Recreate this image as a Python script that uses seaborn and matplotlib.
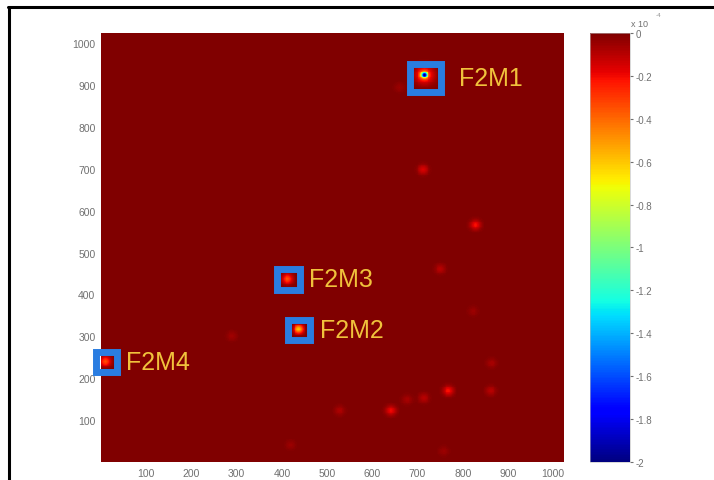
import numpy as np
import pandas as pd
import matplotlib
matplotlib.use("Agg")
import matplotlib.pyplot as plt
from matplotlib.patches import Rectangle
from matplotlib.lines import Line2D
import seaborn as sns

# ── Data ──────────────────────────────────────────────────────────────────────
EXTENT = 1024
N_CELLS = 512

# bright spots on the map (position in px, depth in x10^-4, spread in px)
# F2M1 is given as a wide halo plus a deep narrow core
spot_x = [715, 715, 437, 412, 10, 712, 828, 750, 289, 768, 862, 864, 714, 677, 641, 528, 758, 419, 823, 660]
spot_y = [924, 924, 317, 437, 240, 698, 566, 461, 301, 170, 170, 236, 153, 149, 123, 123, 26, 41, 360, 894]
spot_depth = [-0.35, -1.7, -0.6, -0.35, -0.35, -0.16, -0.22, -0.1, -0.06, -0.22, -0.1, -0.07,
              -0.1, -0.07, -0.2, -0.08, -0.05, -0.05, -0.05, -0.05]
spot_width = [14, 4.5, 7, 8, 8, 8, 8, 8, 8, 8, 8, 8, 8, 8, 8, 8, 8, 8, 8, 8]

marker_names = ["F2M1", "F2M2", "F2M3", "F2M4"]
marker_x = [717, 438, 414, 12]
marker_y = [917, 315, 436, 238]

axis_ticks = [100, 200, 300, 400, 500, 600, 700, 800, 900, 1000]
cbar_ticks = [0, -0.2, -0.4, -0.6, -0.8, -1, -1.2, -1.4, -1.6, -1.8, -2]
cbar_labels = ["0", "-0.2", "-0.4", "-0.6", "-0.8", "-1", "-1.2", "-1.4", "-1.6", "-1.8", "-2"]

# ── Build field ───────────────────────────────────────────────────────────────
step = EXTENT / N_CELLS
centers = (np.arange(N_CELLS) + 0.5) * step
gx, gy = np.meshgrid(centers, centers)
field = np.zeros_like(gx)
for x, y, d, w in zip(spot_x, spot_y, spot_depth, spot_width):
    field += d * np.exp(-((gx - x) ** 2 + (gy - y) ** 2) / (2 * w ** 2))
field = np.clip(field, -2, 0)
df = pd.DataFrame(field)

# ── Plot ──────────────────────────────────────────────────────────────────────
sns.set_style("white")
plt.rcParams["font.family"] = ["Liberation Sans", "DejaVu Sans"]

fig = plt.figure(figsize=(7.14, 4.81), dpi=100)
ax = fig.add_axes([0.1415, 0.0374, 0.6485, 0.892])
cax = fig.add_axes([0.826, 0.0374, 0.056, 0.892])

sns.heatmap(df, ax=ax, cbar_ax=cax, cmap="jet", vmin=-2, vmax=0,
            xticklabels=False, yticklabels=False,
            cbar_kws={"ticks": cbar_ticks}, rasterized=True)
ax.set_ylim(0, N_CELLS)
ax.set_xlim(0, N_CELLS)

ax.set_xticks([t / step for t in axis_ticks])
ax.set_xticklabels([str(t) for t in axis_ticks])
ax.set_yticks([t / step for t in axis_ticks])
ax.set_yticklabels([str(t) for t in axis_ticks], rotation=0)
ax.tick_params(length=0, labelsize=7.5, colors="#707070", pad=4)
ax.set_xlabel("")
ax.set_ylabel("")

# marker boxes + labels
box_sizes = [68, 48, 50, 48]          # in px units of the map
text_offsets = [24, 15, 15, 14]       # points
for name, mx, my, bs, off in zip(marker_names, marker_x, marker_y, box_sizes, text_offsets):
    cx, cy = mx / step, my / step
    half = bs / step / 2
    ax.add_patch(Rectangle((cx - half, cy - half), 2 * half, 2 * half,
                           fill=False, edgecolor="#2a7de1", linewidth=5,
                           clip_on=False, zorder=5))
    ax.annotate(name, (cx, cy), xytext=(off, 0), textcoords="offset points",
                ha="left", va="center", fontsize=18, color="#f0c23c",
                annotation_clip=False, zorder=6)

# colorbar styling
cbar = ax.collections[0].colorbar
cbar.set_ticklabels(cbar_labels)
cbar.ax.tick_params(labelsize=7, colors="#707070", length=2, pad=2)
cbar.outline.set_linewidth(0.4)
cbar.outline.set_edgecolor("#bbbbbb")
fig.text(0.884, 1 - 27 / 481, "x 10", fontsize=6.5, color="#707070")
fig.text(0.918, 1 - 17 / 481, "-4", fontsize=4.5, color="#909090")

# screenshot frame
fig.add_artist(Line2D([8 / 714, 1], [1 - 8 / 481, 1 - 8 / 481], color="black", lw=2.2))
fig.add_artist(Line2D([9 / 714, 9 / 714], [0, 1 - 8 / 481], color="black", lw=2.2))

fig.savefig("out.png", dpi=100)
plt.close(fig)
